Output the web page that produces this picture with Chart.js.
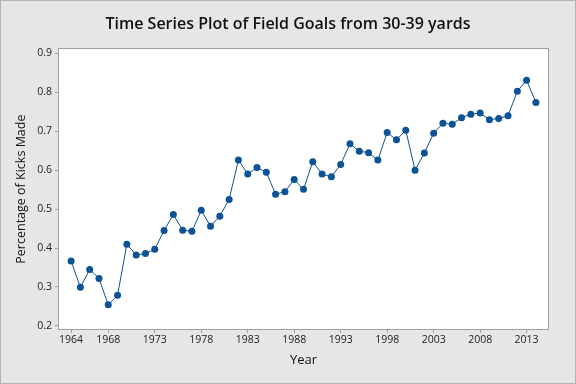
<!DOCTYPE html>
<html>
<head>
<meta charset="utf-8">
<script src="https://cdn.jsdelivr.net/npm/chart.js@4.4.1/dist/chart.umd.min.js"></script>
<style>
  html, body { margin: 0; padding: 0; background: #e6e6e6; }
  #wrap { width: 576px; height: 384px; }
</style>
</head>
<body>
<div id="wrap"><canvas id="ts-chart" width="576" height="384"></canvas></div>
<script>
// data
var years = [];
for (var y = 1964; y <= 2014; y++) years.push(y);

var pctMade = [
  0.367, 0.299, 0.345, 0.322, 0.254, 0.279, 0.410, 0.382, 0.386, 0.397,
  0.445, 0.486, 0.446, 0.443, 0.497, 0.456, 0.482, 0.525, 0.626, 0.590,
  0.607, 0.595, 0.538, 0.545, 0.576, 0.551, 0.622, 0.590, 0.583, 0.615,
  0.668, 0.649, 0.645, 0.626, 0.697, 0.678, 0.703, 0.600, 0.644, 0.695,
  0.721, 0.718, 0.735, 0.744, 0.747, 0.730, 0.733, 0.740, 0.803, 0.831,
  0.774
];

var yearTicks = [1964, 1968, 1973, 1978, 1983, 1988, 1993, 1998, 2003, 2008, 2013];
var pctTicks = [0.2, 0.3, 0.4, 0.5, 0.6, 0.7, 0.8, 0.9];

var lineColor = "#0b5394";
var frameColor = "#a0a0a0";
var fontFam = "'Open Sans', sans-serif";

// gray page, white plot box with a frame all round
var boxPlugin = {
  id: "box",
  afterLayout: function(chart) {
    // centre the title on the whole canvas, not on the padded area
    if (chart.titleBlock) {
      chart.titleBlock.left = 0;
      chart.titleBlock.right = chart.width;
      chart.titleBlock.width = chart.width;
    }
  },
  beforeDraw: function(chart) {
    var c = chart.ctx, a = chart.chartArea;
    c.save();
    c.fillStyle = "#e6e6e6";
    c.fillRect(0, 0, chart.width, chart.height);
    c.fillStyle = "#ffffff";
    c.fillRect(a.left, a.top, a.right - a.left, a.bottom - a.top);
    c.restore();
  },
  afterDraw: function(chart) {
    var c = chart.ctx, a = chart.chartArea;
    c.save();
    c.strokeStyle = frameColor;
    c.lineWidth = 1;
    c.strokeRect(Math.round(a.left) - 0.5, Math.round(a.top) - 0.5, Math.round(a.right - a.left) + 1, Math.round(a.bottom - a.top) + 1);
    c.strokeStyle = "#b4b4b4";
    c.strokeRect(0.5, 0.5, chart.width - 1, chart.height - 1);
    c.restore();
  }
};

var pts = years.map(function(yr, i) { return { x: yr, y: pctMade[i] }; });

new Chart("ts-chart", {
  type: "line",
  data: {
    datasets: [{
      data: pts,
      borderColor: lineColor,
      backgroundColor: lineColor,
      borderWidth: 1,
      pointRadius: 3.5,
      pointBorderWidth: 0,
      pointBackgroundColor: lineColor,
      tension: 0
    }]
  },
  plugins: [boxPlugin],
  options: {
    responsive: false,
    animation: false,
    layout: { padding: { left: 0, right: 28, top: 0, bottom: 0 } },
    plugins: {
      legend: { display: false },
      tooltip: { enabled: false },
      title: {
        display: true,
        text: "Time Series Plot of Field Goals from 30-39 yards",
        color: "#111",
        font: { family: fontFam, size: 16, weight: "600" },
        padding: { top: 15, bottom: 15 }
      }
    },
    scales: {
      x: {
        type: "linear",
        min: 1962.7,
        max: 2015.3,
        afterBuildTicks: function(scale) {
          scale.ticks = yearTicks.map(function(v) { return { value: v }; });
        },
        afterFit: function(scale) { scale.height = 55; },
        ticks: {
          color: "#222",
          font: { family: fontFam, size: 10.5 },
          padding: 1,
          maxRotation: 0,
          autoSkip: false,
          callback: function(v) { return String(v); }
        },
        grid: { drawOnChartArea: false, drawTicks: true, tickLength: 4, color: frameColor },
        border: { display: false },
        title: {
          display: true,
          text: "Year",
          color: "#111",
          font: { family: fontFam, size: 13, weight: "500" },
          padding: { top: 2, bottom: 16 }
        }
      },
      y: {
        min: 0.192,
        max: 0.911,
        afterBuildTicks: function(scale) {
          scale.ticks = pctTicks.map(function(v) { return { value: v }; });
        },
        afterFit: function(scale) { scale.width = 59; },
        ticks: {
          color: "#222",
          font: { family: fontFam, size: 10.5 },
          padding: 3,
          callback: function(v) { return v.toFixed(1); }
        },
        grid: { drawOnChartArea: false, drawTicks: true, tickLength: 4, color: frameColor },
        border: { display: false },
        title: {
          display: true,
          text: "Percentage of Kicks Made",
          color: "#111",
          font: { family: fontFam, size: 12.5, weight: "500" },
          padding: { top: 14, bottom: 4 }
        }
      }
    }
  }
});
</script>
</body>
</html>
